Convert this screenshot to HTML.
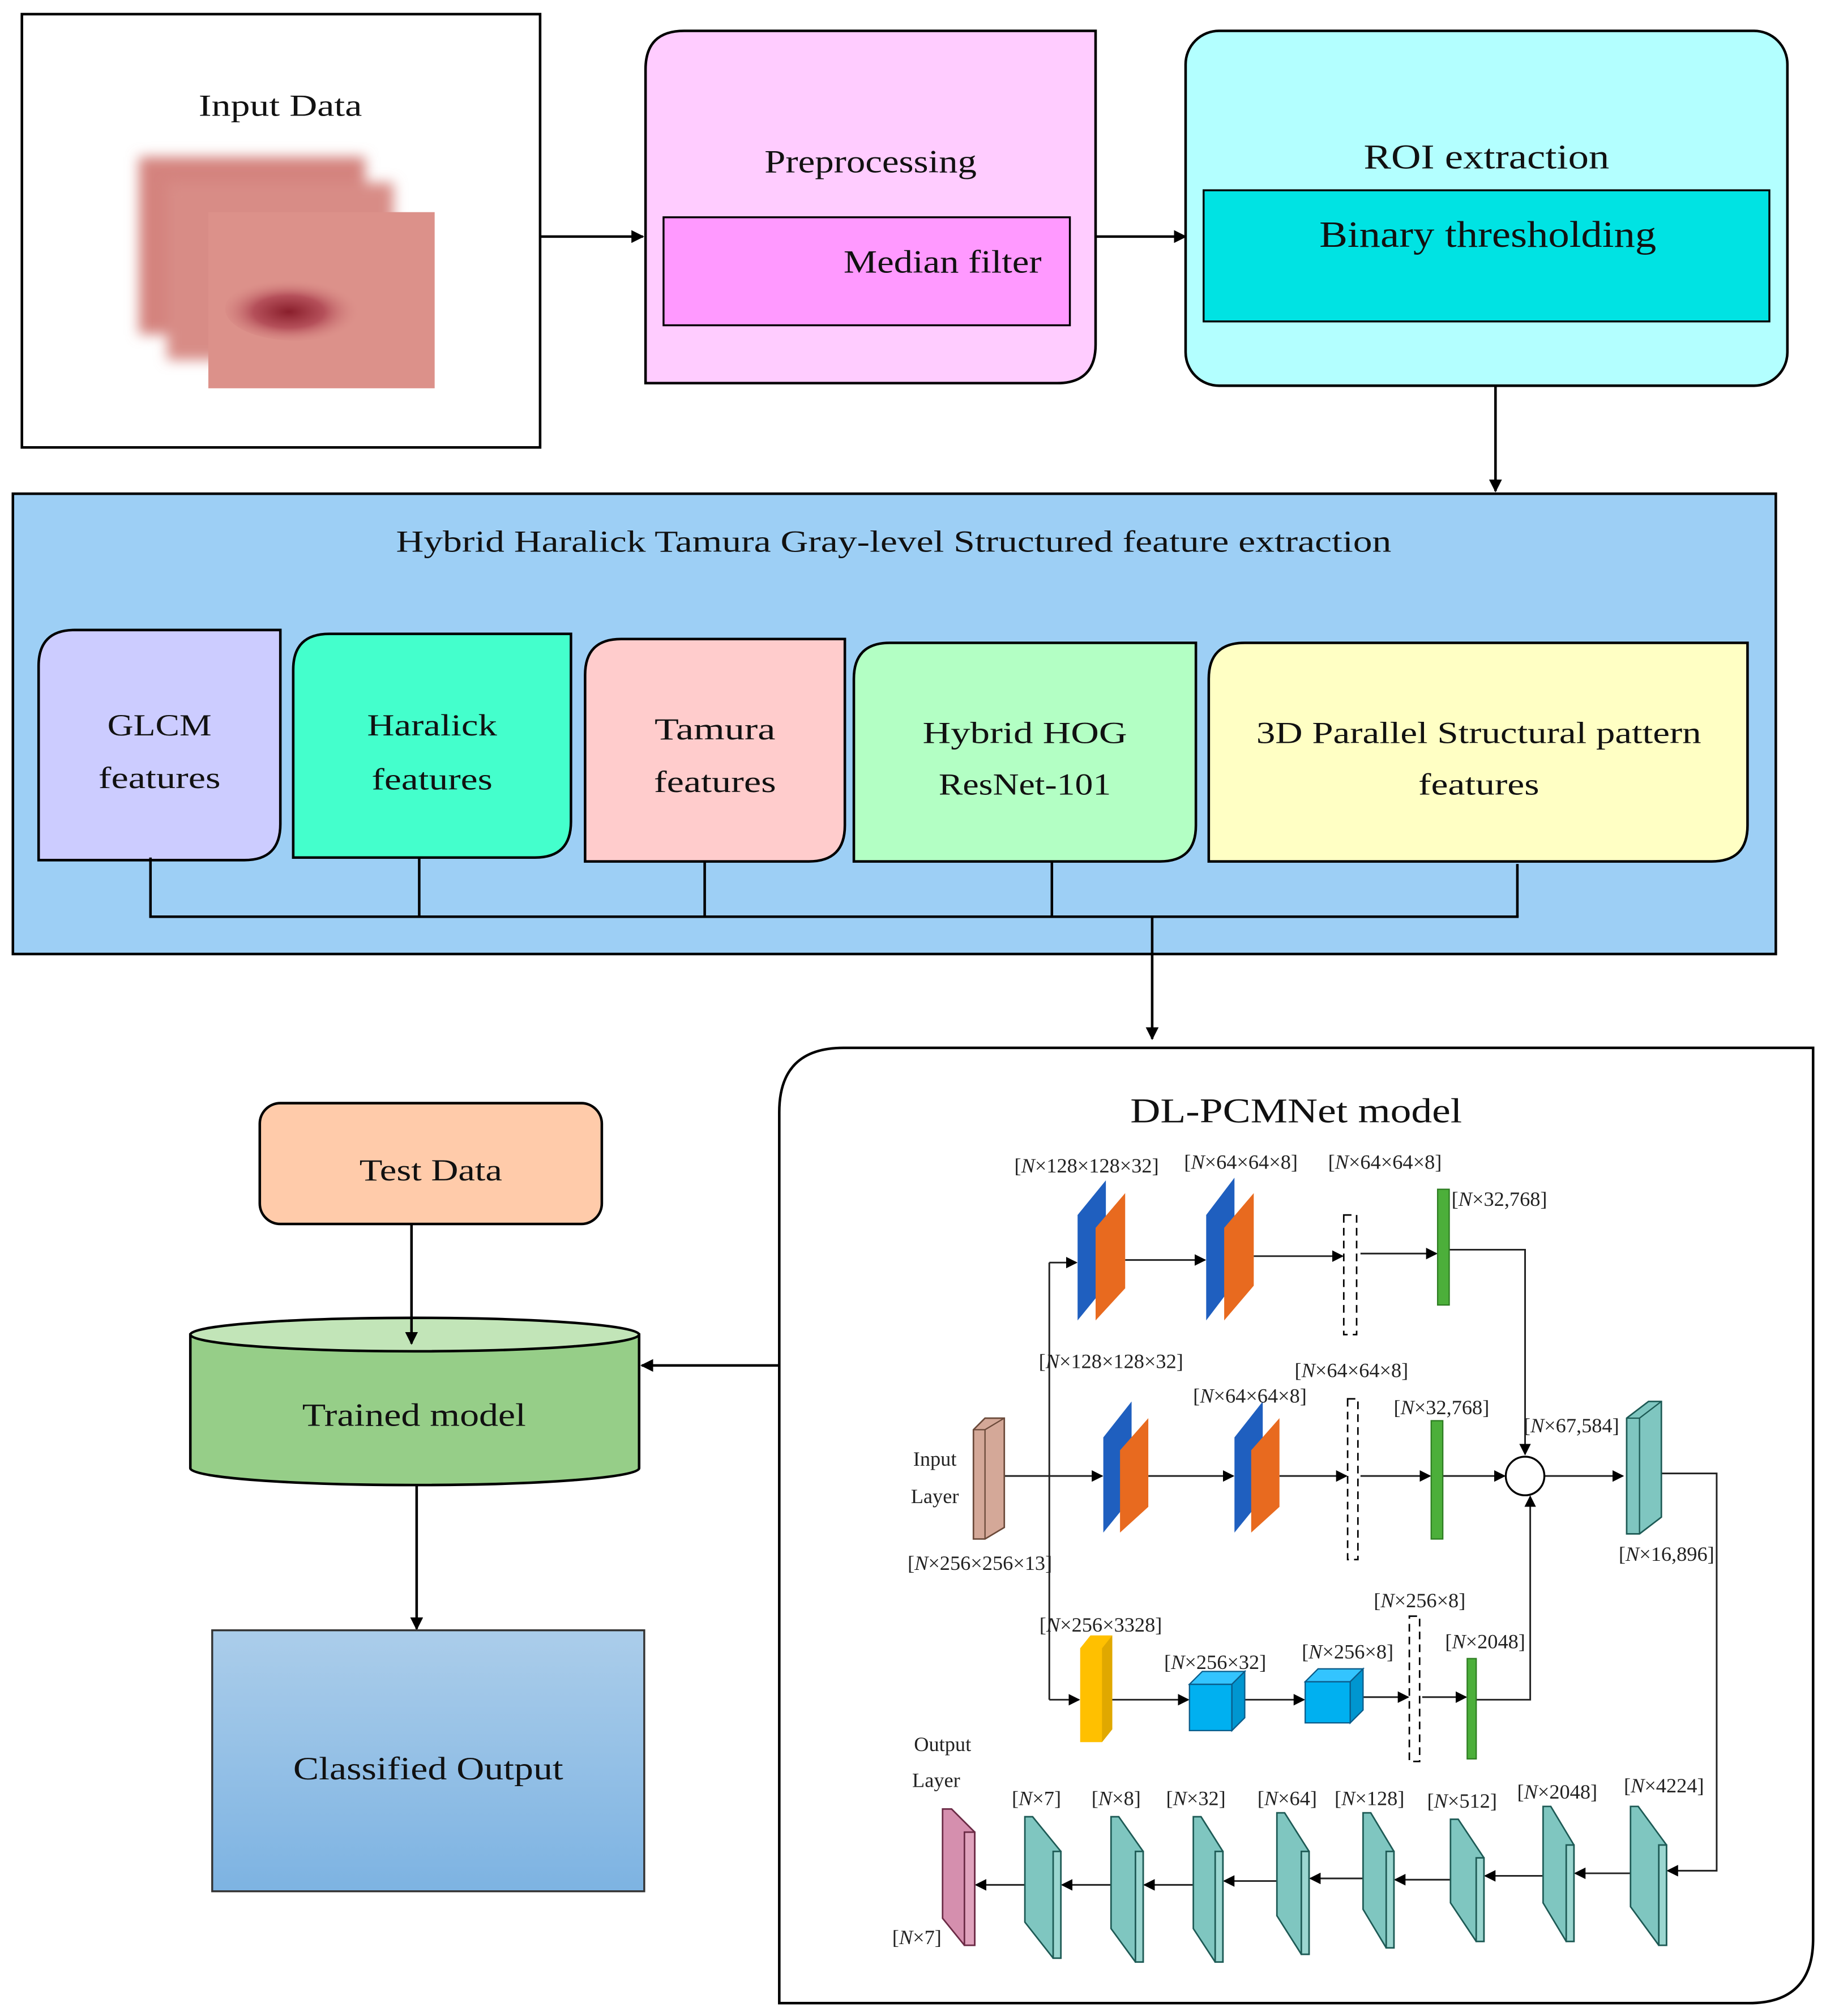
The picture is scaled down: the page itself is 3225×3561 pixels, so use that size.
<!DOCTYPE html>
<html><head><meta charset="utf-8"><style>
html,body{margin:0;padding:0;background:#fff}
svg{display:block}
text{font-family:"Liberation Serif",serif;fill:#111}
.n{font-size:16px;fill:#222}
</style></head><body>
<svg width="3225" height="3561" viewBox="0 0 1420 1568" xmlns="http://www.w3.org/2000/svg">
<defs>
<marker id="ah" markerWidth="10" markerHeight="10" refX="9" refY="5" orient="auto" markerUnits="userSpaceOnUse"><path d="M0,0 L10,5 L0,10 z" fill="#000"/></marker>
<marker id="as" markerWidth="9" markerHeight="9" refX="8" refY="4.5" orient="auto" markerUnits="userSpaceOnUse"><path d="M0,0 L9,4.5 L0,9 z" fill="#000"/></marker>
<linearGradient id="cg" x1="0" y1="0" x2="0" y2="1"><stop offset="0" stop-color="#abcdea"/><stop offset="1" stop-color="#7db3e2"/></linearGradient>
<filter id="blur"><feGaussianBlur stdDeviation="5"/></filter>
<radialGradient id="les" cx="0.45" cy="0.55" r="0.5"><stop offset="0" stop-color="#8a1f2c"/><stop offset="0.5" stop-color="#b5505a"/><stop offset="1" stop-color="#d98b86" stop-opacity="0"/></radialGradient>
</defs>

<!-- Input Data -->
<rect x="17" y="11" width="403" height="337" fill="#fff" stroke="#000" stroke-width="2"/>
<text x="218" y="90" font-size="24" text-anchor="middle" textLength="127" lengthAdjust="spacingAndGlyphs">Input Data</text>
<rect x="108" y="122" width="176" height="138" fill="#d4837e" filter="url(#blur)"/>
<rect x="130" y="142" width="176" height="138" fill="#d88c86" filter="url(#blur)"/>
<rect x="162" y="165" width="176" height="137" fill="#dc918a"/>
<ellipse cx="230" cy="240" rx="55" ry="25" fill="url(#les)"/>
<line x1="420" y1="184" x2="500" y2="184" stroke="#000" stroke-width="2" marker-end="url(#ah)"/>

<!-- Preprocessing -->
<path d="M532,24 H852 V268 Q852,298 822,298 H502 V54 Q502,24 532,24 Z" fill="#ffccff" stroke="#000" stroke-width="2"/>
<text x="677" y="134" font-size="25" text-anchor="middle" textLength="165" lengthAdjust="spacingAndGlyphs">Preprocessing</text>
<rect x="516" y="169" width="316" height="84" fill="#ff99ff" stroke="#000" stroke-width="1.5"/>
<text x="733" y="212" font-size="25" text-anchor="middle" textLength="154" lengthAdjust="spacingAndGlyphs">Median filter</text>
<line x1="852" y1="184" x2="922" y2="184" stroke="#000" stroke-width="2" marker-end="url(#ah)"/>

<!-- ROI -->
<rect x="922" y="24" width="468" height="276" rx="26" fill="#b3ffff" stroke="#000" stroke-width="2"/>
<text x="1156" y="131" font-size="27" text-anchor="middle" textLength="191" lengthAdjust="spacingAndGlyphs">ROI extraction</text>
<rect x="936" y="148" width="440" height="102" fill="#00e3e3" stroke="#000" stroke-width="1.5"/>
<text x="1157" y="192" font-size="29" text-anchor="middle" textLength="262" lengthAdjust="spacingAndGlyphs">Binary thresholding</text>
<line x1="1163" y1="300" x2="1163" y2="382" stroke="#000" stroke-width="2" marker-end="url(#ah)"/>

<!-- Hybrid box -->
<rect x="10" y="384" width="1371" height="358" fill="#9dcff5" stroke="#000" stroke-width="2"/>
<text x="695" y="429" font-size="24" text-anchor="middle" textLength="774" lengthAdjust="spacingAndGlyphs">Hybrid Haralick Tamura Gray-level Structured feature extraction</text>
<path d="M58,490 H218 V641 Q218,669 190,669 H30 V518 Q30,490 58,490 Z" fill="#ccccff" stroke="#000" stroke-width="2"/>
<text x="124" y="572" font-size="24" text-anchor="middle" textLength="81" lengthAdjust="spacingAndGlyphs">GLCM</text>
<text x="124" y="613" font-size="24" text-anchor="middle" textLength="95" lengthAdjust="spacingAndGlyphs">features</text>
<path d="M256,493 H444 V639 Q444,667 416,667 H228 V521 Q228,493 256,493 Z" fill="#44ffcc" stroke="#000" stroke-width="2"/>
<text x="336" y="572" font-size="24" text-anchor="middle" textLength="101" lengthAdjust="spacingAndGlyphs">Haralick</text>
<text x="336" y="614" font-size="24" text-anchor="middle" textLength="94" lengthAdjust="spacingAndGlyphs">features</text>
<path d="M483,497 H657 V642 Q657,670 629,670 H455 V525 Q455,497 483,497 Z" fill="#ffcccc" stroke="#000" stroke-width="2"/>
<text x="556" y="575" font-size="24" text-anchor="middle" textLength="94" lengthAdjust="spacingAndGlyphs">Tamura</text>
<text x="556" y="616" font-size="24" text-anchor="middle" textLength="95" lengthAdjust="spacingAndGlyphs">features</text>
<path d="M692,500 H930 V642 Q930,670 902,670 H664 V528 Q664,500 692,500 Z" fill="#b3ffc4" stroke="#000" stroke-width="2"/>
<text x="797" y="578" font-size="24" text-anchor="middle" textLength="159" lengthAdjust="spacingAndGlyphs">Hybrid HOG</text>
<text x="797" y="618" font-size="24" text-anchor="middle" textLength="134" lengthAdjust="spacingAndGlyphs">ResNet-101</text>
<path d="M968,500 H1359 V642 Q1359,670 1331,670 H940 V528 Q940,500 968,500 Z" fill="#ffffc4" stroke="#000" stroke-width="2"/>
<text x="1150" y="578" font-size="24" text-anchor="middle" textLength="346" lengthAdjust="spacingAndGlyphs">3D Parallel Structural pattern</text>
<text x="1150" y="618" font-size="24" text-anchor="middle" textLength="94" lengthAdjust="spacingAndGlyphs">features</text>
<g stroke="#000" stroke-width="2" fill="none">
<line x1="117" y1="667" x2="117" y2="713"/><line x1="326" y1="667" x2="326" y2="713"/>
<line x1="548" y1="670" x2="548" y2="713"/><line x1="818" y1="670" x2="818" y2="713"/>
<line x1="1180" y1="672" x2="1180" y2="713"/><line x1="116" y1="713" x2="1181" y2="713"/>
</g>
<line x1="896" y1="713" x2="896" y2="808" stroke="#000" stroke-width="2" marker-end="url(#ah)"/>

<!-- DL-PCMNet -->
<path d="M656,815 H1410 V1508 Q1410,1558 1360,1558 H606 V865 Q606,815 656,815 Z" fill="#fff" stroke="#000" stroke-width="2"/>
<text x="1008" y="873" font-size="27" text-anchor="middle" textLength="258" lengthAdjust="spacingAndGlyphs">DL-PCMNet model</text>

<!-- Left column -->
<rect x="202" y="858" width="266" height="94" rx="16" fill="#ffcbaa" stroke="#000" stroke-width="2"/>
<text x="335" y="918" font-size="24" text-anchor="middle" textLength="111" lengthAdjust="spacingAndGlyphs">Test Data</text>
<path d="M148,1038 V1142 A174,13 0 0 0 497,1142 V1038 Z" fill="#96ce88" stroke="#000" stroke-width="2"/>
<ellipse cx="322.5" cy="1038" rx="174.5" ry="13" fill="#c2e5b8" stroke="#000" stroke-width="2"/>
<line x1="320" y1="952" x2="320" y2="1045" stroke="#000" stroke-width="2" marker-end="url(#ah)"/>
<text x="322" y="1109" font-size="25" text-anchor="middle" textLength="174" lengthAdjust="spacingAndGlyphs">Trained model</text>
<line x1="606" y1="1062" x2="499" y2="1062" stroke="#000" stroke-width="2" marker-end="url(#ah)"/>
<line x1="324" y1="1155" x2="324" y2="1267" stroke="#000" stroke-width="2" marker-end="url(#ah)"/>
<rect x="165" y="1268" width="336" height="203" fill="url(#cg)" stroke="#333" stroke-width="1.5"/>
<text x="333" y="1384" font-size="25" text-anchor="middle" textLength="210" lengthAdjust="spacingAndGlyphs">Classified Output</text>

<!-- network connectors -->
<g stroke="#222" stroke-width="1.3" fill="none">
<line x1="816" y1="982" x2="816" y2="1322"/>
<line x1="816" y1="982" x2="837" y2="982" marker-end="url(#as)"/>
<line x1="875" y1="980" x2="937" y2="980" marker-end="url(#as)"/>
<line x1="975" y1="977" x2="1044" y2="977" marker-end="url(#as)"/>
<line x1="1058" y1="975" x2="1117" y2="975" marker-end="url(#as)"/>
<polyline points="1127,972 1186,972 1186,1131" marker-end="url(#as)"/>
<line x1="781" y1="1148" x2="857" y2="1148" marker-end="url(#as)"/>
<line x1="893" y1="1148" x2="959" y2="1148" marker-end="url(#as)"/>
<line x1="995" y1="1148" x2="1047" y2="1148" marker-end="url(#as)"/>
<line x1="1058" y1="1148" x2="1112" y2="1148" marker-end="url(#as)"/>
<line x1="1122" y1="1148" x2="1170" y2="1148" marker-end="url(#as)"/>
<line x1="1201" y1="1148" x2="1262" y2="1148" marker-end="url(#as)"/>
<line x1="816" y1="1322" x2="839" y2="1322" marker-end="url(#as)"/>
<line x1="865" y1="1322" x2="924" y2="1322" marker-end="url(#as)"/>
<line x1="968" y1="1322" x2="1014" y2="1322" marker-end="url(#as)"/>
<line x1="1060" y1="1320" x2="1095" y2="1320" marker-end="url(#as)"/>
<line x1="1106" y1="1320" x2="1140" y2="1320" marker-end="url(#as)"/>
<polyline points="1148,1322 1190,1322 1190,1164" marker-end="url(#as)"/>
<polyline points="1292,1146 1335,1146 1335,1455 1297,1455" marker-end="url(#as)"/>
<line x1="1268" y1="1457" x2="1225" y2="1457" marker-end="url(#as)"/>
<line x1="1200" y1="1459" x2="1155" y2="1459" marker-end="url(#as)"/>
<line x1="1128" y1="1462" x2="1085" y2="1462" marker-end="url(#as)"/>
<line x1="1060" y1="1461" x2="1019" y2="1461" marker-end="url(#as)"/>
<line x1="993" y1="1463" x2="952" y2="1463" marker-end="url(#as)"/>
<line x1="928" y1="1466" x2="890" y2="1466" marker-end="url(#as)"/>
<line x1="864" y1="1466" x2="826" y2="1466" marker-end="url(#as)"/>
<line x1="797" y1="1466" x2="759" y2="1466" marker-end="url(#as)"/>
</g>
<circle cx="1186" cy="1148" r="15" fill="#fff" stroke="#000" stroke-width="1.5"/>

<!-- conv pairs -->
<g>
<polygon points="838,945 860,918 860,1000 838,1027" fill="#1f5fbf"/>
<polygon points="852,955 875,928 875,1002 852,1027" fill="#e86a1f"/>
<polygon points="938,945 960,916 960,998 938,1027" fill="#1f5fbf"/>
<polygon points="952,955 975,928 975,1000 952,1027" fill="#e86a1f"/>
<polygon points="858,1118 880,1090 880,1165 858,1192" fill="#1f5fbf"/>
<polygon points="871,1128 893,1103 893,1172 871,1192" fill="#e86a1f"/>
<polygon points="960,1118 982,1090 982,1165 960,1192" fill="#1f5fbf"/>
<polygon points="973,1128 995,1103 995,1172 973,1192" fill="#e86a1f"/>
</g>
<g fill="#fff" stroke="#000" stroke-width="1.2" stroke-dasharray="6,4">
<rect x="1045" y="945" width="10" height="93"/>
<rect x="1048" y="1088" width="8" height="125"/>
<rect x="1096" y="1257" width="8" height="113"/>
</g>
<g fill="#4caf3a" stroke="#2e7d22" stroke-width="1">
<rect x="1118" y="925" width="9" height="90"/>
<rect x="1113" y="1105" width="9" height="92"/>
<rect x="1141" y="1290" width="7" height="78"/>
</g>
<!-- input layer -->
<polygon points="757,1112 766,1103 781,1103 781,1188 766,1197 757,1197" fill="#d4a898" stroke="#6b4a3a" stroke-width="1.2"/>
<line x1="766" y1="1112" x2="766" y2="1197" stroke="#6b4a3a"/><line x1="757" y1="1112" x2="766" y2="1112" stroke="#6b4a3a"/><line x1="766" y1="1112" x2="781" y2="1103" stroke="#6b4a3a"/>
<!-- right teal -->
<polygon points="1265,1103 1282,1090 1292,1090 1292,1180 1275,1193 1265,1193" fill="#7fc6c0" stroke="#1d5a55" stroke-width="1.2"/>
<line x1="1275" y1="1103" x2="1275" y2="1193" stroke="#1d5a55"/><line x1="1265" y1="1103" x2="1275" y2="1103" stroke="#1d5a55"/><line x1="1275" y1="1103" x2="1292" y2="1090" stroke="#1d5a55"/>
<!-- yellow -->
<polygon points="840,1282 848,1272 865,1272 865,1345 857,1355 840,1355" fill="#ffc000"/>
<polygon points="857,1282 865,1272 865,1345 857,1355" fill="#e0a800"/>
<!-- cubes -->
<g stroke="#0b5c8a" stroke-width="1">
<rect x="925" y="1310" width="33" height="36" fill="#00b0f0"/>
<polygon points="925,1310 935,1300 968,1300 958,1310" fill="#33c4ff"/>
<polygon points="958,1310 968,1300 968,1336 958,1346" fill="#0096d0"/>
<rect x="1015" y="1308" width="35" height="32" fill="#00b0f0"/>
<polygon points="1015,1308 1025,1298 1060,1298 1050,1308" fill="#33c4ff"/>
<polygon points="1050,1308 1060,1298 1060,1330 1050,1340" fill="#0096d0"/>
</g>
<!-- output row blocks -->
<g stroke="#1d5a55" stroke-width="1.2">
<polygon points="797,1413 803,1413 825,1440 825,1523 819,1523 797,1495" fill="#7fc6c0"/><rect x="819" y="1440" width="6" height="83" fill="#9bd6d0"/>
<polygon points="864,1413 870,1413 889,1440 889,1526 883,1526 864,1500" fill="#7fc6c0"/><rect x="883" y="1440" width="6" height="86" fill="#9bd6d0"/>
<polygon points="928,1413 934,1413 951,1440 951,1526 945,1526 928,1500" fill="#7fc6c0"/><rect x="945" y="1440" width="6" height="86" fill="#9bd6d0"/>
<polygon points="993,1410 999,1410 1018,1440 1018,1520 1012,1520 993,1490" fill="#7fc6c0"/><rect x="1012" y="1440" width="6" height="80" fill="#9bd6d0"/>
<polygon points="1060,1410 1066,1410 1084,1440 1084,1515 1078,1515 1060,1485" fill="#7fc6c0"/><rect x="1078" y="1440" width="6" height="75" fill="#9bd6d0"/>
<polygon points="1128,1415 1134,1415 1154,1445 1154,1510 1148,1510 1128,1480" fill="#7fc6c0"/><rect x="1148" y="1445" width="6" height="65" fill="#9bd6d0"/>
<polygon points="1200,1405 1206,1405 1224,1435 1224,1510 1218,1510 1200,1480" fill="#7fc6c0"/><rect x="1218" y="1435" width="6" height="75" fill="#9bd6d0"/>
<polygon points="1268,1405 1274,1405 1296,1435 1296,1513 1290,1513 1268,1483" fill="#7fc6c0"/><rect x="1290" y="1435" width="6" height="78" fill="#9bd6d0"/>
</g>
<polygon points="733,1407 740,1407 758,1425 758,1513 750,1513 733,1492" fill="#d58fae" stroke="#6b2a45" stroke-width="1.2"/>
<rect x="750" y="1425" width="8" height="88" fill="#e0a3bd" stroke="#6b2a45" stroke-width="1.2"/>

<!-- network labels -->
<g>
<text class="n" x="845" y="912" text-anchor="middle">[<tspan font-style="italic">N</tspan>×128×128×32]</text>
<text class="n" x="965" y="909" text-anchor="middle">[<tspan font-style="italic">N</tspan>×64×64×8]</text>
<text class="n" x="1077" y="909" text-anchor="middle">[<tspan font-style="italic">N</tspan>×64×64×8]</text>
<text class="n" x="1166" y="938" text-anchor="middle">[<tspan font-style="italic">N</tspan>×32,768]</text>
<text class="n" x="864" y="1064" text-anchor="middle">[<tspan font-style="italic">N</tspan>×128×128×32]</text>
<text class="n" x="972" y="1091" text-anchor="middle">[<tspan font-style="italic">N</tspan>×64×64×8]</text>
<text class="n" x="1051" y="1071" text-anchor="middle">[<tspan font-style="italic">N</tspan>×64×64×8]</text>
<text class="n" x="1121" y="1100" text-anchor="middle">[<tspan font-style="italic">N</tspan>×32,768]</text>
<text class="n" x="1222" y="1114" text-anchor="middle">[<tspan font-style="italic">N</tspan>×67,584]</text>
<text class="n" x="1296" y="1214" text-anchor="middle">[<tspan font-style="italic">N</tspan>×16,896]</text>
<text class="n" x="762" y="1221" text-anchor="middle">[<tspan font-style="italic">N</tspan>×256×256×13]</text>
<text class="n" x="727" y="1140" text-anchor="middle">Input</text>
<text class="n" x="727" y="1169" text-anchor="middle">Layer</text>
<text class="n" x="856" y="1269" text-anchor="middle">[<tspan font-style="italic">N</tspan>×256×3328]</text>
<text class="n" x="945" y="1298" text-anchor="middle">[<tspan font-style="italic">N</tspan>×256×32]</text>
<text class="n" x="1048" y="1290" text-anchor="middle">[<tspan font-style="italic">N</tspan>×256×8]</text>
<text class="n" x="1104" y="1250" text-anchor="middle">[<tspan font-style="italic">N</tspan>×256×8]</text>
<text class="n" x="1155" y="1282" text-anchor="middle">[<tspan font-style="italic">N</tspan>×2048]</text>
<text class="n" x="733" y="1362" text-anchor="middle">Output</text>
<text class="n" x="728" y="1390" text-anchor="middle">Layer</text>
<text class="n" x="806" y="1404" text-anchor="middle">[<tspan font-style="italic">N</tspan>×7]</text>
<text class="n" x="868" y="1404" text-anchor="middle">[<tspan font-style="italic">N</tspan>×8]</text>
<text class="n" x="930" y="1404" text-anchor="middle">[<tspan font-style="italic">N</tspan>×32]</text>
<text class="n" x="1001" y="1404" text-anchor="middle">[<tspan font-style="italic">N</tspan>×64]</text>
<text class="n" x="1065" y="1404" text-anchor="middle">[<tspan font-style="italic">N</tspan>×128]</text>
<text class="n" x="1137" y="1406" text-anchor="middle">[<tspan font-style="italic">N</tspan>×512]</text>
<text class="n" x="1211" y="1399" text-anchor="middle">[<tspan font-style="italic">N</tspan>×2048]</text>
<text class="n" x="1294" y="1394" text-anchor="middle">[<tspan font-style="italic">N</tspan>×4224]</text>
<text class="n" x="713" y="1512" text-anchor="middle">[<tspan font-style="italic">N</tspan>×7]</text>
</g>
</svg>
</body></html>
